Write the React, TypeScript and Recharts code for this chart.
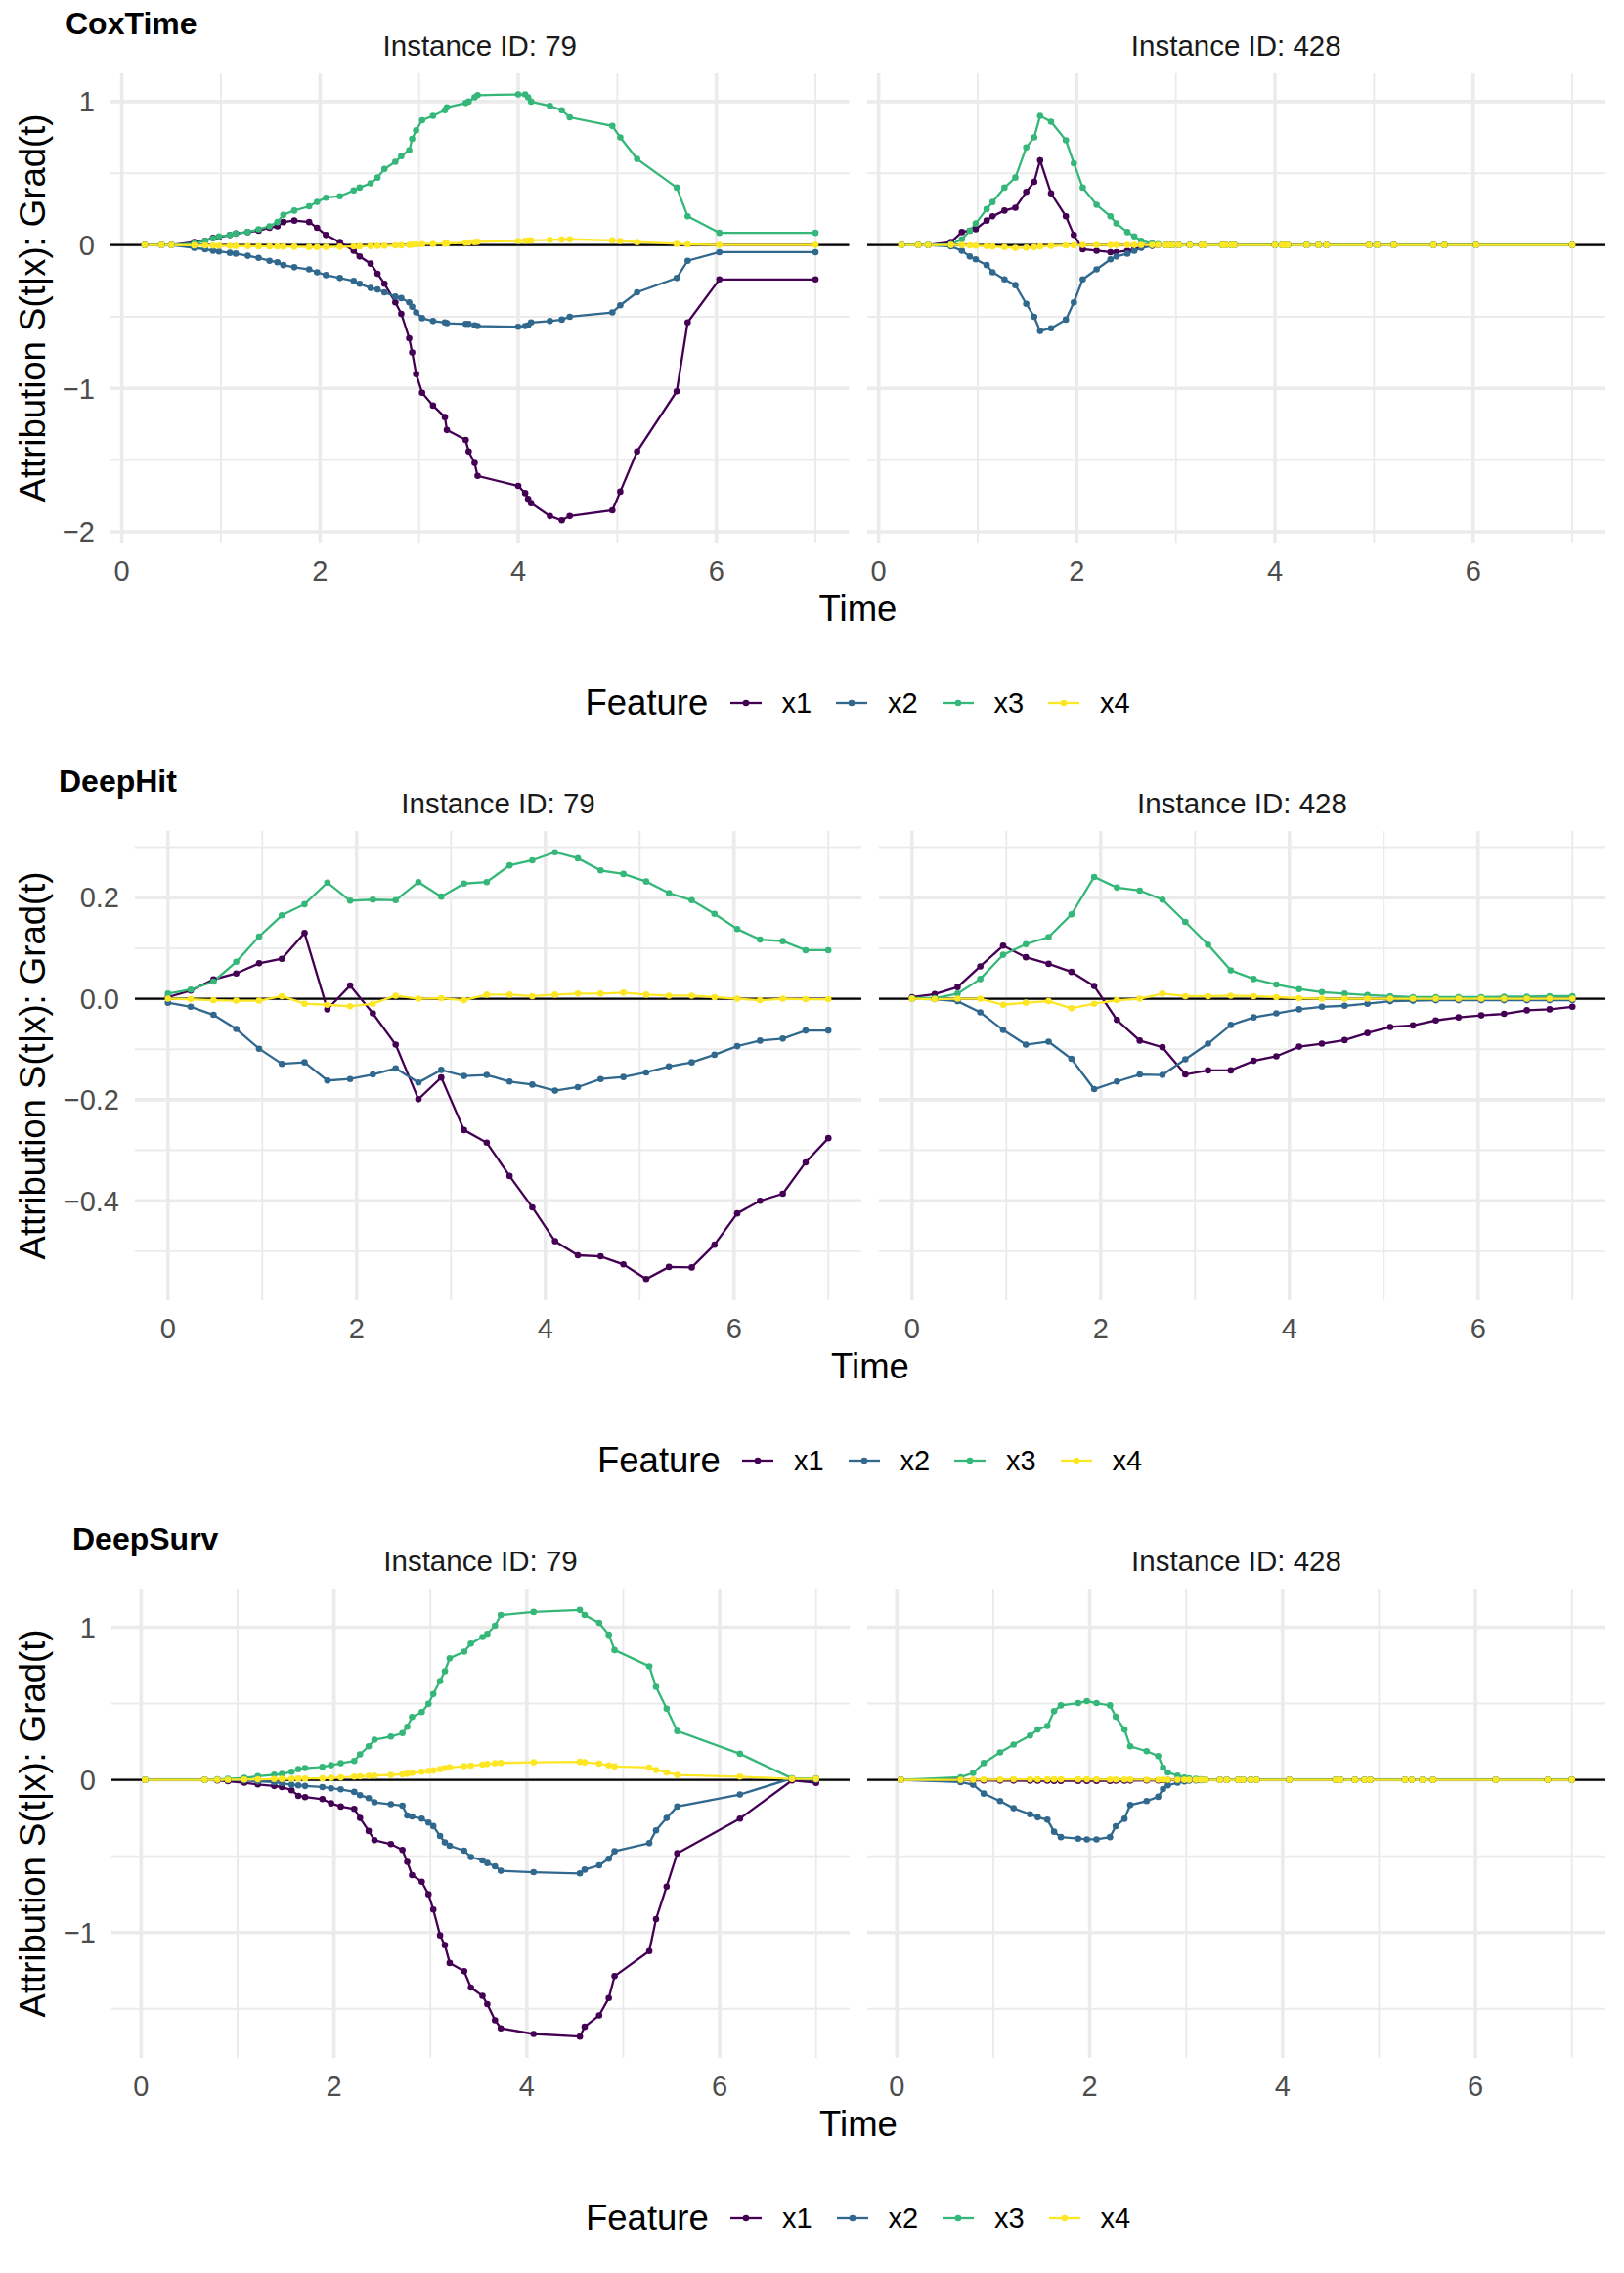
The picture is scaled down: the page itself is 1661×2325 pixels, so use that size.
import React from 'react';
import { LineChart, Line, XAxis, YAxis, CartesianGrid, ReferenceLine } from 'recharts';

const FONT = '"Liberation Sans", Arial, Helvetica, sans-serif';

const features = ['x1', 'x2', 'x3', 'x4'];
const featureColors = ['#440154', '#31688E', '#35B779', '#FDE725'];

// ---- CoxTime (shared event-time grid for both instances)
const coxTime = [0.23, 0.4, 0.5, 0.73, 0.84, 0.92, 0.98, 1.09, 1.15, 1.27, 1.38, 1.49, 1.57, 1.63, 1.74, 1.89, 1.97, 2.06, 2.2, 2.34, 2.4, 2.51, 2.58, 2.65, 2.76, 2.82, 2.9, 2.93, 2.97, 3.03, 3.14, 3.26, 3.28, 3.47, 3.5, 3.56, 3.59, 4.0, 4.07, 4.1, 4.13, 4.32, 4.44, 4.52, 4.95, 5.03, 5.2, 5.6, 5.71, 6.03, 7.0];

const cox79X1 = [0, 0, 0, 0.02, 0.03, 0.05, 0.055, 0.07, 0.08, 0.09, 0.1, 0.12, 0.13, 0.16, 0.17, 0.16, 0.12, 0.07, 0.02, -0.04, -0.08, -0.13, -0.2, -0.27, -0.4, -0.48, -0.65, -0.75, -0.9, -1.03, -1.12, -1.2, -1.29, -1.36, -1.44, -1.52, -1.61, -1.68, -1.73, -1.77, -1.8, -1.89, -1.92, -1.89, -1.85, -1.72, -1.44, -1.02, -0.54, -0.24, -0.24];
const cox79X2 = [0, 0, 0, -0.02, -0.03, -0.04, -0.045, -0.055, -0.06, -0.075, -0.09, -0.11, -0.12, -0.14, -0.155, -0.17, -0.19, -0.21, -0.23, -0.25, -0.27, -0.3, -0.31, -0.33, -0.36, -0.37, -0.4, -0.43, -0.47, -0.51, -0.53, -0.54, -0.545, -0.55, -0.55, -0.56, -0.565, -0.57, -0.565, -0.56, -0.54, -0.53, -0.52, -0.5, -0.47, -0.42, -0.33, -0.23, -0.11, -0.05, -0.05];
const cox79X3 = [0, 0, 0, 0.01, 0.03, 0.045, 0.06, 0.07, 0.08, 0.09, 0.11, 0.13, 0.16, 0.21, 0.24, 0.27, 0.3, 0.33, 0.34, 0.38, 0.4, 0.43, 0.47, 0.53, 0.58, 0.62, 0.66, 0.74, 0.8, 0.87, 0.9, 0.94, 0.96, 0.99, 1.0, 1.03, 1.045, 1.05, 1.05, 1.03, 1.0, 0.97, 0.94, 0.89, 0.83, 0.75, 0.6, 0.4, 0.2, 0.085, 0.085];
const cox79X4 = [0, 0, 0, -0.002, -0.003, -0.004, -0.005, -0.006, -0.007, -0.008, -0.009, -0.01, -0.01, -0.011, -0.012, -0.014, -0.015, -0.014, -0.012, -0.01, -0.009, -0.007, -0.006, -0.005, -0.003, -0.002, 0, 0.002, 0.004, 0.006, 0.008, 0.01, 0.011, 0.016, 0.018, 0.02, 0.022, 0.028, 0.03, 0.031, 0.032, 0.036, 0.038, 0.04, 0.032, 0.028, 0.02, 0.008, 0.004, 0, 0];

const cox428X1 = [0, 0, 0, 0.02, 0.09, 0.1, 0.11, 0.17, 0.2, 0.24, 0.26, 0.37, 0.44, 0.59, 0.36, 0.2, 0.07, -0.03, -0.04, -0.05, -0.05, -0.04, -0.03, -0.015, -0.005, 0, 0, 0, 0, 0, 0, 0, 0, 0, 0, 0, 0, 0, 0, 0, 0, 0, 0, 0, 0, 0, 0, 0, 0, 0, 0];
const cox428X2 = [0, 0, 0, -0.01, -0.04, -0.08, -0.1, -0.14, -0.19, -0.24, -0.28, -0.41, -0.5, -0.6, -0.58, -0.52, -0.4, -0.24, -0.17, -0.1, -0.08, -0.06, -0.04, -0.02, -0.005, 0, 0, 0, 0, 0, 0, 0, 0, 0, 0, 0, 0, 0, 0, 0, 0, 0, 0, 0, 0, 0, 0, 0, 0, 0, 0];
const cox428X3 = [0, 0, 0, 0.005, 0.04, 0.1, 0.15, 0.25, 0.3, 0.4, 0.47, 0.68, 0.75, 0.9, 0.86, 0.73, 0.57, 0.4, 0.28, 0.2, 0.15, 0.09, 0.06, 0.03, 0.01, 0.005, 0, 0, 0, 0, 0, 0, 0, 0, 0, 0, 0, 0, 0, 0, 0, 0, 0, 0, 0, 0, 0, 0, 0, 0, 0];
const cox428X4 = [0, 0, 0, 0, 0, -0.003, -0.005, -0.008, -0.01, -0.015, -0.02, -0.018, -0.015, -0.01, -0.006, -0.003, -0.002, 0, 0, 0, 0, 0, 0, 0, 0, 0, 0, 0, 0, 0, 0, 0, 0, 0, 0, 0, 0, 0, 0, 0, 0, 0, 0, 0, 0, 0, 0, 0, 0, 0, 0];

// ---- DeepHit (discrete time grid)
const hitTime = [0, 0.241, 0.483, 0.724, 0.966, 1.207, 1.448, 1.69, 1.931, 2.172, 2.414, 2.655, 2.897, 3.138, 3.379, 3.621, 3.862, 4.103, 4.345, 4.586, 4.828, 5.069, 5.31, 5.552, 5.793, 6.034, 6.276, 6.517, 6.759, 7.0];

const hit79X1 = [0.003, 0.016, 0.038, 0.05, 0.07, 0.079, 0.13, -0.021, 0.026, -0.029, -0.091, -0.199, -0.156, -0.26, -0.285, -0.351, -0.413, -0.48, -0.508, -0.51, -0.526, -0.555, -0.531, -0.532, -0.487, -0.425, -0.4, -0.386, -0.324, -0.276];
const hit79X2 = [-0.008, -0.016, -0.032, -0.06, -0.099, -0.129, -0.126, -0.162, -0.159, -0.15, -0.138, -0.166, -0.141, -0.153, -0.151, -0.164, -0.17, -0.182, -0.175, -0.159, -0.155, -0.146, -0.134, -0.126, -0.111, -0.094, -0.083, -0.079, -0.063, -0.063];
const hit79X3 = [0.01, 0.018, 0.034, 0.073, 0.123, 0.165, 0.187, 0.23, 0.194, 0.196, 0.195, 0.231, 0.202, 0.228, 0.231, 0.264, 0.274, 0.29, 0.278, 0.254, 0.247, 0.232, 0.209, 0.195, 0.168, 0.138, 0.117, 0.114, 0.096, 0.096];
const hit79X4 = [0, -0.001, -0.003, -0.004, -0.004, 0.005, -0.01, -0.012, -0.015, -0.01, 0.006, 0, 0.001, -0.003, 0.008, 0.008, 0.005, 0.008, 0.01, 0.01, 0.012, 0.008, 0.006, 0.006, 0.003, 0, -0.003, 0, -0.001, -0.001];

const hit428X1 = [0.003, 0.009, 0.023, 0.064, 0.105, 0.082, 0.069, 0.053, 0.025, -0.042, -0.083, -0.096, -0.15, -0.142, -0.142, -0.123, -0.114, -0.095, -0.089, -0.082, -0.068, -0.056, -0.053, -0.043, -0.037, -0.033, -0.03, -0.023, -0.021, -0.016];
const hit428X2 = [0, -0.001, -0.005, -0.027, -0.062, -0.091, -0.085, -0.119, -0.179, -0.164, -0.15, -0.151, -0.12, -0.089, -0.052, -0.037, -0.029, -0.021, -0.016, -0.014, -0.01, -0.005, -0.004, -0.003, -0.003, -0.003, -0.003, -0.003, -0.003, -0.003];
const hit428X3 = [0.001, 0.001, 0.01, 0.039, 0.087, 0.108, 0.122, 0.167, 0.241, 0.22, 0.214, 0.196, 0.152, 0.107, 0.056, 0.039, 0.028, 0.019, 0.013, 0.01, 0.007, 0.005, 0.003, 0.003, 0.003, 0.003, 0.004, 0.004, 0.005, 0.005];
const hit428X4 = [0, -0.001, 0, 0, -0.012, -0.008, -0.005, -0.019, -0.01, -0.003, 0, 0.01, 0.005, 0.005, 0.006, 0.005, 0.003, 0.001, 0, 0, 0, 0, 0, 0, 0, 0, 0, 0, 0, 0];

// ---- DeepSurv (shared event-time grid)
const survTime = [0.04, 0.66, 0.79, 0.9, 1.07, 1.21, 1.38, 1.46, 1.56, 1.63, 1.7, 1.88, 1.97, 2.07, 2.21, 2.27, 2.36, 2.42, 2.59, 2.71, 2.76, 2.81, 2.91, 2.98, 3.03, 3.1, 3.15, 3.2, 3.35, 3.42, 3.54, 3.59, 3.67, 3.73, 4.07, 4.55, 4.6, 4.75, 4.85, 4.91, 5.27, 5.34, 5.45, 5.56, 6.21, 6.75, 7.0];

const surv79X1 = [0, 0, -0.004, -0.009, -0.019, -0.03, -0.04, -0.047, -0.068, -0.105, -0.113, -0.126, -0.154, -0.175, -0.19, -0.25, -0.335, -0.395, -0.421, -0.459, -0.538, -0.624, -0.667, -0.75, -0.85, -1.019, -1.083, -1.2, -1.254, -1.361, -1.415, -1.47, -1.575, -1.628, -1.665, -1.682, -1.618, -1.543, -1.43, -1.286, -1.122, -0.912, -0.699, -0.481, -0.254, -0.004, -0.02];
const surv79X2 = [0, 0, 0, -0.002, -0.004, -0.01, -0.015, -0.022, -0.032, -0.036, -0.04, -0.047, -0.055, -0.062, -0.079, -0.1, -0.12, -0.147, -0.16, -0.169, -0.233, -0.24, -0.254, -0.28, -0.303, -0.368, -0.41, -0.432, -0.464, -0.506, -0.528, -0.545, -0.566, -0.596, -0.605, -0.613, -0.588, -0.56, -0.517, -0.468, -0.415, -0.331, -0.25, -0.175, -0.096, 0.01, 0];
const surv79X3 = [0, 0, 0.003, 0.006, 0.013, 0.024, 0.034, 0.038, 0.053, 0.07, 0.077, 0.085, 0.096, 0.109, 0.124, 0.167, 0.22, 0.263, 0.284, 0.306, 0.348, 0.412, 0.444, 0.498, 0.562, 0.647, 0.712, 0.797, 0.84, 0.893, 0.936, 0.957, 1.01, 1.08, 1.1, 1.113, 1.08, 1.028, 0.951, 0.85, 0.744, 0.609, 0.466, 0.32, 0.171, 0.01, 0.01];
const surv79X4 = [0, 0, 0, 0.001, 0.002, 0.003, 0.005, 0.006, 0.007, 0.008, 0.009, 0.01, 0.013, 0.016, 0.021, 0.023, 0.026, 0.028, 0.032, 0.036, 0.04, 0.045, 0.053, 0.058, 0.062, 0.07, 0.077, 0.082, 0.09, 0.093, 0.1, 0.104, 0.109, 0.111, 0.115, 0.118, 0.115, 0.107, 0.095, 0.088, 0.081, 0.065, 0.049, 0.032, 0.021, 0.006, 0.006];

const surv428X1 = [0, 0, -0.003, -0.004, -0.005, -0.005, -0.006, -0.006, -0.006, -0.007, -0.007, -0.007, -0.007, -0.007, -0.007, -0.006, -0.006, -0.005, -0.004, -0.004, -0.003, -0.002, -0.002, -0.001, -0.001, 0, 0, 0, 0, 0, 0, 0, 0, 0, 0, 0, 0, 0, 0, 0, 0, 0, 0, 0, 0, 0, 0];
const surv428X2 = [0, -0.015, -0.032, -0.09, -0.139, -0.186, -0.225, -0.245, -0.261, -0.34, -0.375, -0.385, -0.39, -0.39, -0.375, -0.304, -0.255, -0.165, -0.139, -0.111, -0.06, -0.036, -0.019, -0.01, -0.006, -0.004, -0.002, 0, 0, 0, 0, 0, 0, 0, 0, 0, 0, 0, 0, 0, 0, 0, 0, 0, 0, 0, 0];
const surv428X3 = [0, 0.017, 0.045, 0.11, 0.18, 0.231, 0.29, 0.33, 0.353, 0.45, 0.488, 0.503, 0.516, 0.503, 0.488, 0.413, 0.33, 0.22, 0.188, 0.156, 0.08, 0.049, 0.028, 0.015, 0.01, 0.006, 0.003, 0, 0, 0, 0, 0, 0, 0, 0, 0, 0, 0, 0, 0, 0, 0, 0, 0, 0, 0, 0];
const surv428X4 = [0, 0, 0.001, 0.002, 0.002, 0.003, 0.003, 0.003, 0.003, 0.003, 0.003, 0.003, 0.003, 0.003, 0.002, 0.002, 0.002, 0.002, 0.001, 0.001, 0.001, 0.001, 0, 0, 0, 0, 0, 0, 0, 0, 0, 0, 0, 0, 0, 0, 0, 0, 0, 0, 0, 0, 0, 0, 0, 0, 0];

const xMajor = [0, 2, 4, 6];
const xMinor = [1, 3, 5, 7];

interface PanelDef {
  label: string;
  time: number[];
  series: number[][];
}

interface RowDef {
  title: string;
  titleLeft: number;
  plotLeft: number;
  xDomain: [number, number];
  yDomain: [number, number];
  yTicks: number[];
  yMinor: number[];
  decimals: number;
  panels: PanelDef[];
}

const rows: RowDef[] = [
  {
    title: 'CoxTime', titleLeft: 67, plotLeft: 113,
    xDomain: [-0.115, 7.34], yDomain: [-2.075, 1.197],
    yTicks: [-2, -1, 0, 1], yMinor: [-1.5, -0.5, 0.5], decimals: 0,
    panels: [
      { label: 'Instance ID: 79', time: coxTime, series: [cox79X1, cox79X2, cox79X3, cox79X4] },
      { label: 'Instance ID: 428', time: coxTime, series: [cox428X1, cox428X2, cox428X3, cox428X4] },
    ],
  },
  {
    title: 'DeepHit', titleLeft: 60, plotLeft: 138,
    xDomain: [-0.35, 7.35], yDomain: [-0.597, 0.332],
    yTicks: [-0.4, -0.2, 0, 0.2], yMinor: [-0.5, -0.3, -0.1, 0.1, 0.3], decimals: 1,
    panels: [
      { label: 'Instance ID: 79', time: hitTime, series: [hit79X1, hit79X2, hit79X3, hit79X4] },
      { label: 'Instance ID: 428', time: hitTime, series: [hit428X1, hit428X2, hit428X3, hit428X4] },
    ],
  },
  {
    title: 'DeepSurv', titleLeft: 74, plotLeft: 114,
    xDomain: [-0.308, 7.348], yDomain: [-1.822, 1.253],
    yTicks: [-1, 0, 1], yMinor: [-1.5, -0.5, 0.5], decimals: 0,
    panels: [
      { label: 'Instance ID: 79', time: survTime, series: [surv79X1, surv79X2, surv79X3, surv79X4] },
      { label: 'Instance ID: 428', time: survTime, series: [surv428X1, surv428X2, surv428X3, surv428X4] },
    ],
  },
];

// layout of one row (px)
const ROW_H = 775;
const PLOT_TOP = 75;
const PLOT_H = 480;
const RIGHT_EDGE = 1642;
const GAP = 18;
const X_AXIS_H = 44;

const fmt = (d: number) => (v: number) => {
  const s = Math.abs(v).toFixed(d);
  return v < 0 ? '\u2212' + s : s;
};

function Panel({ row, panel, showY, left, width }: { row: RowDef; panel: PanelDef; showY: boolean; left: number; width: number }) {
  const chartW = showY ? left + width : width;
  return (
    <div style={{ position: 'absolute', left: showY ? 0 : left, top: PLOT_TOP }}>
      <LineChart width={chartW} height={PLOT_H + X_AXIS_H} margin={{ top: 0, right: 0, bottom: 0, left: 0 }}>
        <CartesianGrid stroke="#EBEBEB" strokeWidth={1.9} horizontalValues={row.yMinor} verticalValues={xMinor} />
        <CartesianGrid stroke="#EBEBEB" strokeWidth={3.6} horizontalValues={row.yTicks} verticalValues={xMajor} />
        <XAxis
          type="number"
          dataKey="t"
          domain={row.xDomain}
          ticks={xMajor}
          allowDataOverflow
          height={X_AXIS_H}
          tickLine={false}
          axisLine={false}
          tickSize={0}
          tickMargin={18}
          tick={{ fontSize: 29, fill: '#4D4D4D', fontFamily: FONT }}
        />
        <YAxis
          type="number"
          domain={row.yDomain}
          ticks={row.yTicks}
          allowDataOverflow
          hide={!showY}
          width={left}
          tickLine={false}
          axisLine={false}
          tickSize={0}
          tickMargin={16}
          tickFormatter={fmt(row.decimals)}
          tick={{ fontSize: 29, fill: '#4D4D4D', fontFamily: FONT }}
        />
        <ReferenceLine y={0} stroke="#000000" strokeWidth={2.3} />
        {features.map((f, i) => (
          <Line
            key={f}
            name={f}
            data={panel.time.map((t, j) => ({ t, v: panel.series[i][j] }))}
            dataKey="v"
            type="linear"
            stroke={featureColors[i]}
            strokeWidth={2.3}
            dot={{ r: 3.3, fill: featureColors[i], stroke: featureColors[i], strokeWidth: 0 }}
            activeDot={false}
            isAnimationActive={false}
          />
        ))}
      </LineChart>
    </div>
  );
}

function Legend({ center }: { center: number }) {
  const textStyle: React.CSSProperties = { position: 'absolute', lineHeight: 1, whiteSpace: 'nowrap', color: '#000' };
  return (
    <div style={{ position: 'absolute', left: 0, top: 719, width: 1661, height: 0 }}>
      <div style={{ ...textStyle, left: center - 279, top: -18, fontSize: 36.5 }}>Feature</div>
      {features.map((f, i) => (
        <React.Fragment key={f}>
          <svg style={{ position: 'absolute', left: center - 131 + i * 108.5, top: -6 }} width={32} height={12}>
            <line x1={0} y1={6} x2={32} y2={6} stroke={featureColors[i]} strokeWidth={2.3} />
            <circle cx={16} cy={6} r={3.3} fill={featureColors[i]} />
          </svg>
          <div style={{ ...textStyle, left: center - 78 + i * 108.5, top: -14.5, fontSize: 29 }}>{f}</div>
        </React.Fragment>
      ))}
    </div>
  );
}

function Row({ row, index }: { row: RowDef; index: number }) {
  const width = (RIGHT_EDGE - row.plotLeft - GAP) / 2;
  const rightLeft = row.plotLeft + width + GAP;
  const center = (row.plotLeft + RIGHT_EDGE) / 2;
  const lbl: React.CSSProperties = { position: 'absolute', lineHeight: 1, whiteSpace: 'nowrap' };
  return (
    <div style={{ position: 'absolute', left: 0, top: index * ROW_H, width: 1661, height: ROW_H }}>
      <div style={{ ...lbl, left: row.titleLeft, top: 8, fontSize: 32, fontWeight: 'bold', color: '#000' }}>{row.title}</div>
      {row.panels.map((p, k) => (
        <div
          key={p.label}
          style={{ ...lbl, left: (k === 0 ? row.plotLeft : rightLeft) + width / 2, top: 47, fontSize: 29.5, color: '#1A1A1A', transform: 'translate(-50%, -50%)' }}
        >
          {p.label}
        </div>
      ))}
      <div
        style={{ ...lbl, left: 34, top: PLOT_TOP + PLOT_H / 2, fontSize: 36.5, color: '#000', transform: 'translate(-50%, -50%) rotate(-90deg)' }}
      >
        Attribution S(t|x): Grad(t)
      </div>
      <Panel row={row} panel={row.panels[0]} showY left={row.plotLeft} width={width} />
      <Panel row={row} panel={row.panels[1]} showY={false} left={rightLeft} width={width} />
      <div style={{ ...lbl, left: center, top: 623, fontSize: 36.5, color: '#000', transform: 'translate(-50%, -50%)' }}>Time</div>
      <Legend center={center} />
    </div>
  );
}

export default function App() {
  return (
    <div style={{ position: 'absolute', left: 0, top: 0, width: 1661, height: 2325, background: '#fff', fontFamily: FONT, overflow: 'hidden' }}>
      {rows.map((r, i) => (
        <Row key={r.title} row={r} index={i} />
      ))}
    </div>
  );
}
